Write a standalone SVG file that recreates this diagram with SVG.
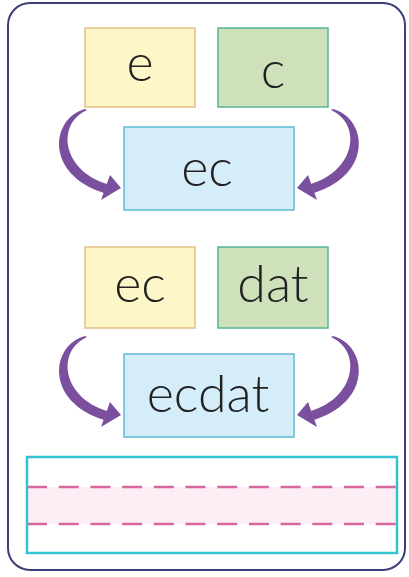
<svg xmlns="http://www.w3.org/2000/svg" width="409" height="577" viewBox="0 0 409 577">
  <defs>
    <style>
      .yel { fill: #fdf6c8; stroke: #e2c189; stroke-width: 1.5; }
      .grn { fill: #cfe1bb; stroke: #55b49b; stroke-width: 1.5; }
      .blu { fill: #d5edf9; stroke: #5fbad4; stroke-width: 1.5; }
      .lbl { font-family: Lato, "Liberation Sans", sans-serif; font-weight: 300; font-size: 52px; fill: #222222; text-anchor: middle; }
      .arr { fill: #7a4f9e; }
      .dash { stroke: #d9679f; stroke-width: 2.5; stroke-dasharray: 20 11.7; stroke-dashoffset: 1; fill: none; }
    </style>
    <g id="arrowL">
      <path d="M 85,109 C 51,118 44,174 104,193 L 107,184 C 62,170 56,124 87,110 Z"/>
      <polygon points="110,175 121,188 101,200"/>
    </g>
  </defs>
  <rect x="8" y="3" width="397" height="567" rx="22" ry="22" fill="#ffffff" stroke="#3b3f78" stroke-width="2"/>

  <g id="node-e">
    <rect class="yel" x="85" y="28" width="110" height="79"/>
    <text class="lbl" x="140" y="81">e</text>
  </g>
  <g id="node-c">
    <rect class="grn" x="218" y="28" width="110" height="79"/>
    <text class="lbl" x="273" y="88">c</text>
  </g>
  <g id="node-ec1">
    <rect class="blu" x="124" y="127" width="170" height="83"/>
    <text class="lbl" x="207" y="186">ec</text>
  </g>
  <g id="node-ec2">
    <rect class="yel" x="85" y="247" width="110" height="81"/>
    <text class="lbl" x="140" y="302">ec</text>
  </g>
  <g id="node-dat">
    <rect class="grn" x="218" y="247" width="110" height="81"/>
    <text class="lbl" x="273" y="302">dat</text>
  </g>
  <g id="node-ecdat">
    <rect class="blu" x="124" y="354" width="170" height="83"/>
    <text class="lbl" x="208" y="412">ecdat</text>
  </g>

  <g id="connectors" class="arr">
    <use href="#arrowL"/>
    <use href="#arrowL" transform="translate(418,0) scale(-1,1)"/>
    <use href="#arrowL" transform="translate(0,227)"/>
    <use href="#arrowL" transform="translate(418,227) scale(-1,1)"/>
  </g>

  <g id="writing-box">
    <rect x="28" y="487" width="368" height="37" fill="#fdedf4"/>
    <line class="dash" x1="28" y1="487" x2="396" y2="487"/>
    <line class="dash" x1="28" y1="524" x2="396" y2="524"/>
    <rect x="27" y="457" width="370" height="96" fill="none" stroke="#33c3d3" stroke-width="2.5"/>
  </g>
</svg>
